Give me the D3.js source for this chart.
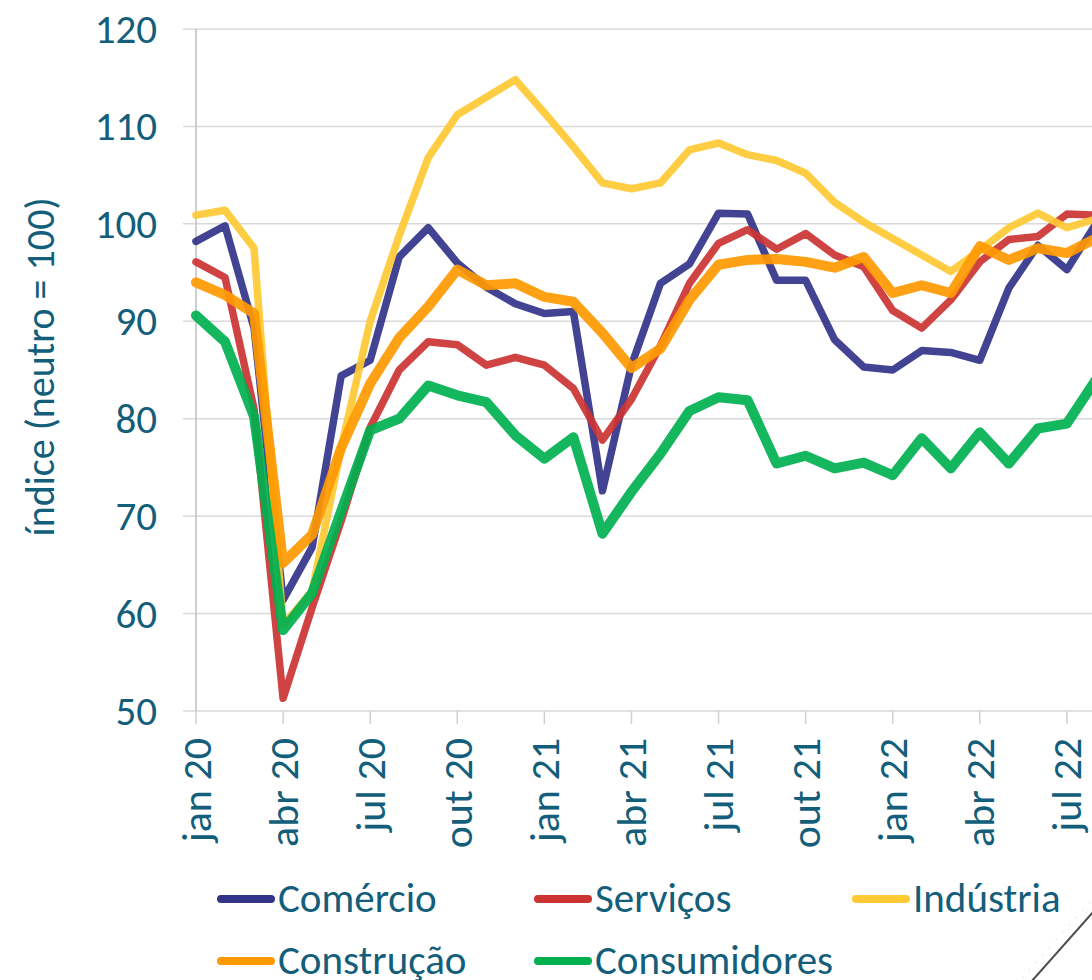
<!DOCTYPE html>
<html>
<head>
<meta charset="utf-8">
<script src="https://cdn.jsdelivr.net/npm/d3@7"></script>
<style>
  html, body { margin: 0; padding: 0; background: #fff; overflow: hidden; }
  svg { display: block; }
  text { font-family: Carlito, Calibri, Lato, sans-serif; fill: #135E7A; }
</style>
</head>
<body>
<svg id="chart" width="1092" height="980"></svg>
<script>
// ---- data ----
const months = ["jan 20","fev 20","mar 20","abr 20","mai 20","jun 20","jul 20","ago 20","set 20","out 20","nov 20","dez 20",
                "jan 21","fev 21","mar 21","abr 21","mai 21","jun 21","jul 21","ago 21","set 21","out 21","nov 21","dez 21",
                "jan 22","fev 22","mar 22","abr 22","mai 22","jun 22","jul 22","ago 22"];
const comercio = [98.2, 99.8, 89.3, 61.4, 66.8, 84.4, 86.0, 96.6, 99.6, 96.0, 93.5, 91.8, 90.8, 91.0, 72.6, 85.5,
                  93.9, 95.9, 101.1, 101.0, 94.2, 94.2, 88.1, 85.3, 85.0, 87.0, 86.8, 86.0, 93.4, 97.8, 95.3, 100.0];
const servicos = [96.1, 94.5, 81.0, 51.3, 60.6, 69.5, 79.1, 85.0, 87.9, 87.6, 85.5, 86.3, 85.5, 83.1, 77.8, 82.0,
                  87.5, 93.9, 98.0, 99.4, 97.4, 99.0, 96.8, 95.6, 91.1, 89.3, 92.2, 96.1, 98.4, 98.7, 101.0, 100.9];
const industria = [100.9, 101.4, 97.5, 58.8, 62.3, 77.0, 90.0, 98.8, 106.8, 111.2, 113.0, 114.8, 111.4, 107.9, 104.2, 103.6,
                   104.2, 107.6, 108.3, 107.1, 106.5, 105.2, 102.2, 100.2, 98.5, 96.8, 95.1, 97.3, 99.6, 101.1, 99.6, 100.5];
const construcao = [94.0, 92.7, 90.8, 65.2, 68.1, 77.0, 83.6, 88.3, 91.5, 95.3, 93.7, 93.9, 92.5, 92.0, 88.8, 85.2,
                    87.2, 92.2, 95.8, 96.3, 96.4, 96.1, 95.5, 96.6, 92.9, 93.7, 92.9, 97.7, 96.3, 97.5, 97.0, 98.5];
const consumidores = [90.6, 87.9, 80.2, 58.3, 62.1, 70.5, 78.8, 80.0, 83.4, 82.4, 81.7, 78.3, 75.9, 78.1, 68.2, 72.5,
                      76.4, 80.8, 82.2, 81.9, 75.4, 76.2, 74.9, 75.5, 74.2, 78.0, 74.9, 78.6, 75.4, 79.0, 79.5, 84.0];
const yTicks = [50, 60, 70, 80, 90, 100, 110, 120];
const seriesNames = ["Comércio", "Serviços", "Indústria", "Construção", "Consumidores"];
const yTitle = "índice (neutro = 100)";

const series = [
  { name: seriesNames[0], values: comercio,     color: "#33338A", width: 7.5 },
  { name: seriesNames[1], values: servicos,     color: "#CC3333", width: 7.5 },
  { name: seriesNames[2], values: industria,    color: "#FFC933", width: 7.5 },
  { name: seriesNames[3], values: construcao,   color: "#FF9900", width: 10 },
  { name: seriesNames[4], values: consumidores, color: "#00B050", width: 10 }
];

// ---- layout ----
const svg = d3.select("#chart");
const step = 29.03;
const x0 = 196;
const x = d3.scalePoint().domain(months).range([x0, x0 + step * (months.length - 1)]);
const y = d3.scaleLinear().domain([50, 120]).range([711, 29]);

// gridlines
svg.append("g").selectAll("line").data(yTicks).join("line")
  .attr("x1", 183).attr("x2", 1092)
  .attr("y1", d => y(d)).attr("y2", d => y(d))
  .attr("stroke", "#D9D9D9").attr("stroke-width", 1.5);

// y axis line
svg.append("line").attr("x1", x0).attr("x2", x0).attr("y1", y(120)).attr("y2", y(50))
  .attr("stroke", "#BFBFBF").attr("stroke-width", 1.5);

// x ticks every 3 months
const tickMonths = months.filter((m, i) => i % 3 === 0);
svg.append("g").selectAll("line").data(tickMonths).join("line")
  .attr("x1", d => x(d)).attr("x2", d => x(d))
  .attr("y1", y(50)).attr("y2", y(50) + 13)
  .attr("stroke", "#D0D0D0").attr("stroke-width", 1.5);

// y labels
svg.append("g").selectAll("text").data(yTicks).join("text")
  .attr("x", 157).attr("y", d => y(d))
  .attr("text-anchor", "end").attr("dominant-baseline", "central")
  .style("font-size", "41px")
  .text(d => d);

// x labels (rotated)
svg.append("g").selectAll("text").data(tickMonths).join("text")
  .attr("transform", d => `translate(${x(d)},738) rotate(-90)`)
  .attr("text-anchor", "end").attr("dominant-baseline", "central")
  .style("font-size", "42px")
  .text(d => d);

// y title
svg.append("text")
  .attr("transform", "translate(40,367) rotate(-90)")
  .attr("text-anchor", "middle").attr("dominant-baseline", "central")
  .style("font-size", "40px")
  .text(yTitle);

// lines
const line = d3.line().x((d, i) => x(months[i])).y(d => y(d));
svg.append("g").selectAll("path").data(series).join("path")
  .attr("d", d => line(d.values))
  .attr("fill", "none")
  .attr("stroke", d => d.color)
  .attr("stroke-width", d => d.width)
  .attr("stroke-opacity", 0.92)
  .attr("stroke-linejoin", "round")
  .attr("stroke-linecap", "round");

// legend
const legendPos = [
  { sx: 217, y: 899 }, { sx: 534, y: 899 }, { sx: 852, y: 899 },
  { sx: 217, y: 961 }, { sx: 534, y: 961 }
];
const lg = svg.append("g").selectAll("g").data(series).join("g")
  .attr("transform", (d, i) => `translate(${legendPos[i].sx},${legendPos[i].y})`);
lg.append("line").attr("x1", 4).attr("x2", 54).attr("y1", 0).attr("y2", 0)
  .attr("stroke", d => d.color).attr("stroke-width", 8).attr("stroke-linecap", "round");
lg.append("text").attr("x", 61).attr("y", 13)
  .style("font-size", "41px")
  .text(d => d.name);

// corner decoration line (bottom right)
svg.append("line").attr("x1", 1031).attr("y1", 982).attr("x2", 1094).attr("y2", 911)
  .attr("stroke", "#4A4A4A").attr("stroke-width", 2);
svg.append("line").attr("x1", 1022).attr("y1", 978).attr("x2", 1092).attr("y2", 900)
  .attr("stroke", "#E0E0E0").attr("stroke-width", 1).attr("stroke-dasharray", "2,8");
</script>
</body>
</html>
